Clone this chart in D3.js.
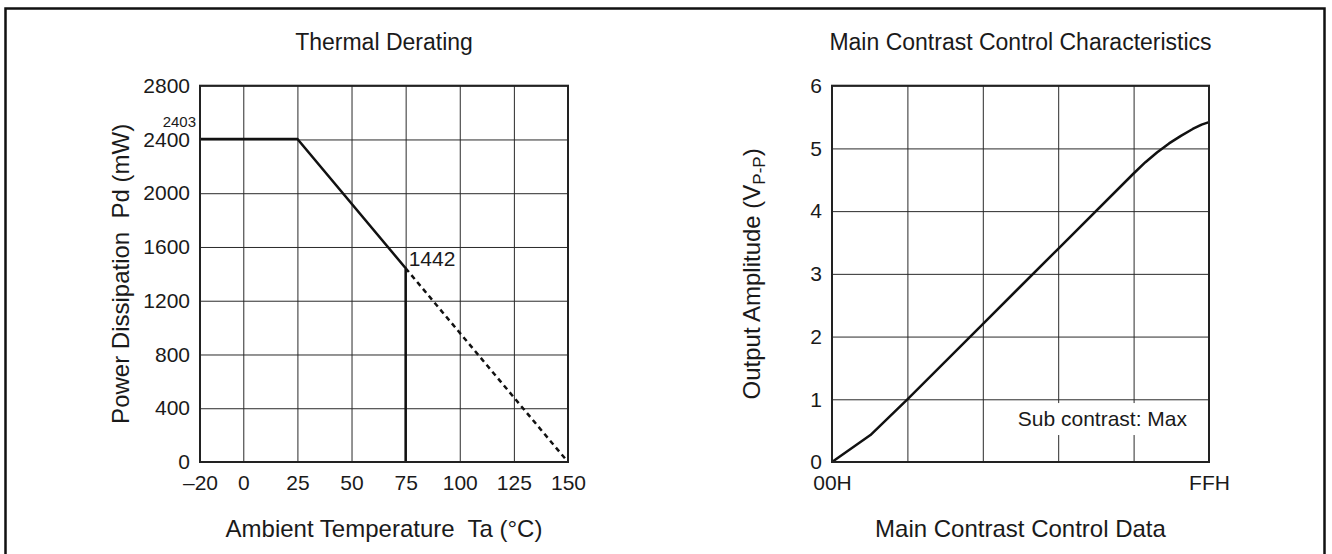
<!DOCTYPE html>
<html lang="en">

<head>
    <script src="https://d3js.org/d3.v7.min.js"></script>
    <style>
        body {
            margin: 0;
            background: white;
        }

        svg text {
            font-family: "Liberation Sans", Arial, sans-serif;
            fill: #1a1a1a;
        }

        .grid line {
            stroke: #2a2a2a;
            stroke-width: 1;
        }

        .grid .domain {
            stroke: none;
        }

        .labels .domain {
            stroke: none;
        }
    </style>
</head>

<body>
    <svg id="charts" width="1332" height="554"></svg>

    <script>
        // thermal derating (left)
        const tempTicks = [-20, 0, 25, 50, 75, 100, 125, 150];
        const powerTicks = [0, 400, 800, 1200, 1600, 2000, 2400, 2800];
        const deratingTemp = [-20, 25, 75, 75];
        const deratingPower = [2403, 2403, 1442, 0];
        const extrapTemp = [75, 150];
        const extrapPower = [1442, 0];

        // main contrast (right)
        const ampTicks = [0, 1, 2, 3, 4, 5, 6];
        const ctrlGrid = [0, 51, 102, 153, 204, 255];
        const ctrlTickLabels = [[0, "00H"], [255, "FFH"]];
        const ctrlData = [0, 26, 51, 102, 153, 204, 212, 220, 228, 236, 244, 250, 255];
        const ampData = [0, 0.43, 1.0, 2.2, 3.4, 4.6, 4.78, 4.94, 5.08, 5.2, 5.31, 5.38, 5.42];

        const svg = d3.select("svg#charts");

        // outer frame
        svg.append("rect")
            .attr("x", 5.5)
            .attr("y", 8.5)
            .attr("width", 1319)
            .attr("height", 560)
            .attr("fill", "none")
            .attr("stroke", "#111")
            .attr("stroke-width", 2.5);

        const plotTop = 85.7, plotBottom = 462;

        function drawFrame(g, x, y, xGrid, yGrid) {
            let w = x.range()[1] - x.range()[0];
            let h = y.range()[0] - y.range()[1];

            g.append("g")
                .attr("class", "grid")
                .attr("transform", `translate(0,${plotBottom})`)
                .call(d3.axisBottom(x).tickValues(xGrid).tickSize(-h).tickFormat(""));

            g.append("g")
                .attr("class", "grid")
                .attr("transform", `translate(${x.range()[0]},0)`)
                .call(d3.axisLeft(y).tickValues(yGrid).tickSize(-w).tickFormat(""));
        }

        function border(g, x, y) {
            g.append("rect")
                .attr("x", x.range()[0])
                .attr("y", y.range()[1])
                .attr("width", x.range()[1] - x.range()[0])
                .attr("height", y.range()[0] - y.range()[1])
                .attr("fill", "none")
                .attr("stroke", "#222")
                .attr("stroke-width", 2);
        }

        function styleLabels(sel) {
            sel.selectAll("text")
                .attr("font-size", 21)
                .attr("font-family", "Liberation Sans, Arial, sans-serif")
                .attr("fill", "#1a1a1a");
            sel.attr("font-family", null).attr("font-size", null);
        }

        // ---------- left chart ----------
        const xL = d3.scaleLinear().domain([-20, 150]).range([200, 568]);
        const yL = d3.scaleLinear().domain([0, 2800]).range([plotBottom, plotTop]);
        const left = svg.append("g");

        drawFrame(left, xL, yL, tempTicks, powerTicks);

        left.append("g")
            .attr("class", "labels")
            .attr("transform", `translate(0,${plotBottom})`)
            .call(d3.axisBottom(xL).tickValues(tempTicks).tickSize(0).tickPadding(13)
                .tickFormat(d => d < 0 ? "\u2013" + Math.abs(d) : String(d)))
            .call(styleLabels);

        left.append("g")
            .attr("class", "labels")
            .attr("transform", `translate(200,0)`)
            .call(d3.axisLeft(yL).tickValues(powerTicks).tickSize(0).tickPadding(10)
                .tickFormat(d3.format("d")))
            .call(styleLabels);

        const lineL = d3.line().x(d => xL(d[0])).y(d => yL(d[1]));

        left.append("path")
            .datum(d3.zip(extrapTemp, extrapPower))
            .attr("d", lineL)
            .attr("fill", "none")
            .attr("stroke", "#111")
            .attr("stroke-width", 2.5)
            .attr("stroke-dasharray", "5,4");

        left.append("path")
            .datum(d3.zip(deratingTemp, deratingPower))
            .attr("d", lineL)
            .attr("fill", "none")
            .attr("stroke", "#111")
            .attr("stroke-width", 2.5);

        border(left, xL, yL);

        left.append("text")
            .attr("x", 196)
            .attr("y", yL(2403) - 12)
            .attr("text-anchor", "end")
            .attr("font-size", 15)
            .text("2403");

        left.append("text")
            .attr("x", xL(75) + 3)
            .attr("y", yL(1442) - 2)
            .attr("font-size", 21)
            .text("1442");

        left.append("text")
            .attr("x", (xL.range()[0] + xL.range()[1]) / 2)
            .attr("y", 50)
            .attr("text-anchor", "middle")
            .attr("font-size", 23)
            .text("Thermal Derating");

        left.append("text")
            .attr("x", (xL.range()[0] + xL.range()[1]) / 2)
            .attr("y", 537)
            .attr("text-anchor", "middle")
            .attr("font-size", 24)
            .attr("xml:space", "preserve")
            .text("Ambient Temperature  Ta (°C)");

        left.append("text")
            .attr("transform", `translate(129,${(plotTop + plotBottom) / 2}) rotate(-90)`)
            .attr("text-anchor", "middle")
            .attr("font-size", 24)
            .attr("xml:space", "preserve")
            .text("Power Dissipation  Pd (mW)");

        // ---------- right chart ----------
        const xR = d3.scaleLinear().domain([0, 255]).range([832, 1209]);
        const yR = d3.scaleLinear().domain([0, 6]).range([plotBottom, plotTop]);
        const right = svg.append("g");

        drawFrame(right, xR, yR, ctrlGrid, ampTicks);

        // label box over the grid
        right.append("rect")
            .attr("x", xR(255) - 199)
            .attr("y", yR(0.94))
            .attr("width", 186)
            .attr("height", yR(0.43) - yR(0.94))
            .attr("fill", "white");

        right.append("text")
            .attr("x", xR(255) - 22)
            .attr("y", yR(0.58))
            .attr("text-anchor", "end")
            .attr("font-size", 21)
            .text("Sub contrast: Max");

        right.append("g")
            .attr("class", "labels")
            .attr("transform", `translate(0,${plotBottom})`)
            .call(d3.axisBottom(xR).tickValues(ctrlTickLabels.map(d => d[0])).tickSize(0).tickPadding(13)
                .tickFormat((d, i) => ctrlTickLabels[i][1]))
            .call(styleLabels);

        right.append("g")
            .attr("class", "labels")
            .attr("transform", `translate(832,0)`)
            .call(d3.axisLeft(yR).tickValues(ampTicks).tickSize(0).tickPadding(10)
                .tickFormat(d3.format("d")))
            .call(styleLabels);

        const lineR = d3.line()
            .x(d => xR(d[0]))
            .y(d => yR(d[1]));

        right.append("path")
            .datum(d3.zip(ctrlData, ampData))
            .attr("d", lineR)
            .attr("fill", "none")
            .attr("stroke", "#111")
            .attr("stroke-width", 2.5)
            .attr("stroke-linejoin", "round");

        border(right, xR, yR);

        right.append("text")
            .attr("x", (xR.range()[0] + xR.range()[1]) / 2)
            .attr("y", 50)
            .attr("text-anchor", "middle")
            .attr("font-size", 23)
            .text("Main Contrast Control Characteristics");

        right.append("text")
            .attr("x", (xR.range()[0] + xR.range()[1]) / 2)
            .attr("y", 537)
            .attr("text-anchor", "middle")
            .attr("font-size", 24)
            .text("Main Contrast Control Data");

        let yTitle = right.append("text")
            .attr("transform", `translate(760,${(plotTop + plotBottom) / 2}) rotate(-90)`)
            .attr("text-anchor", "middle")
            .attr("font-size", 24);
        yTitle.append("tspan").text("Output Amplitude (V");
        yTitle.append("tspan").attr("font-size", 17).attr("dy", 5).text("P-P");
        yTitle.append("tspan").attr("dy", -5).text(")");
    </script>
</body>

</html>
